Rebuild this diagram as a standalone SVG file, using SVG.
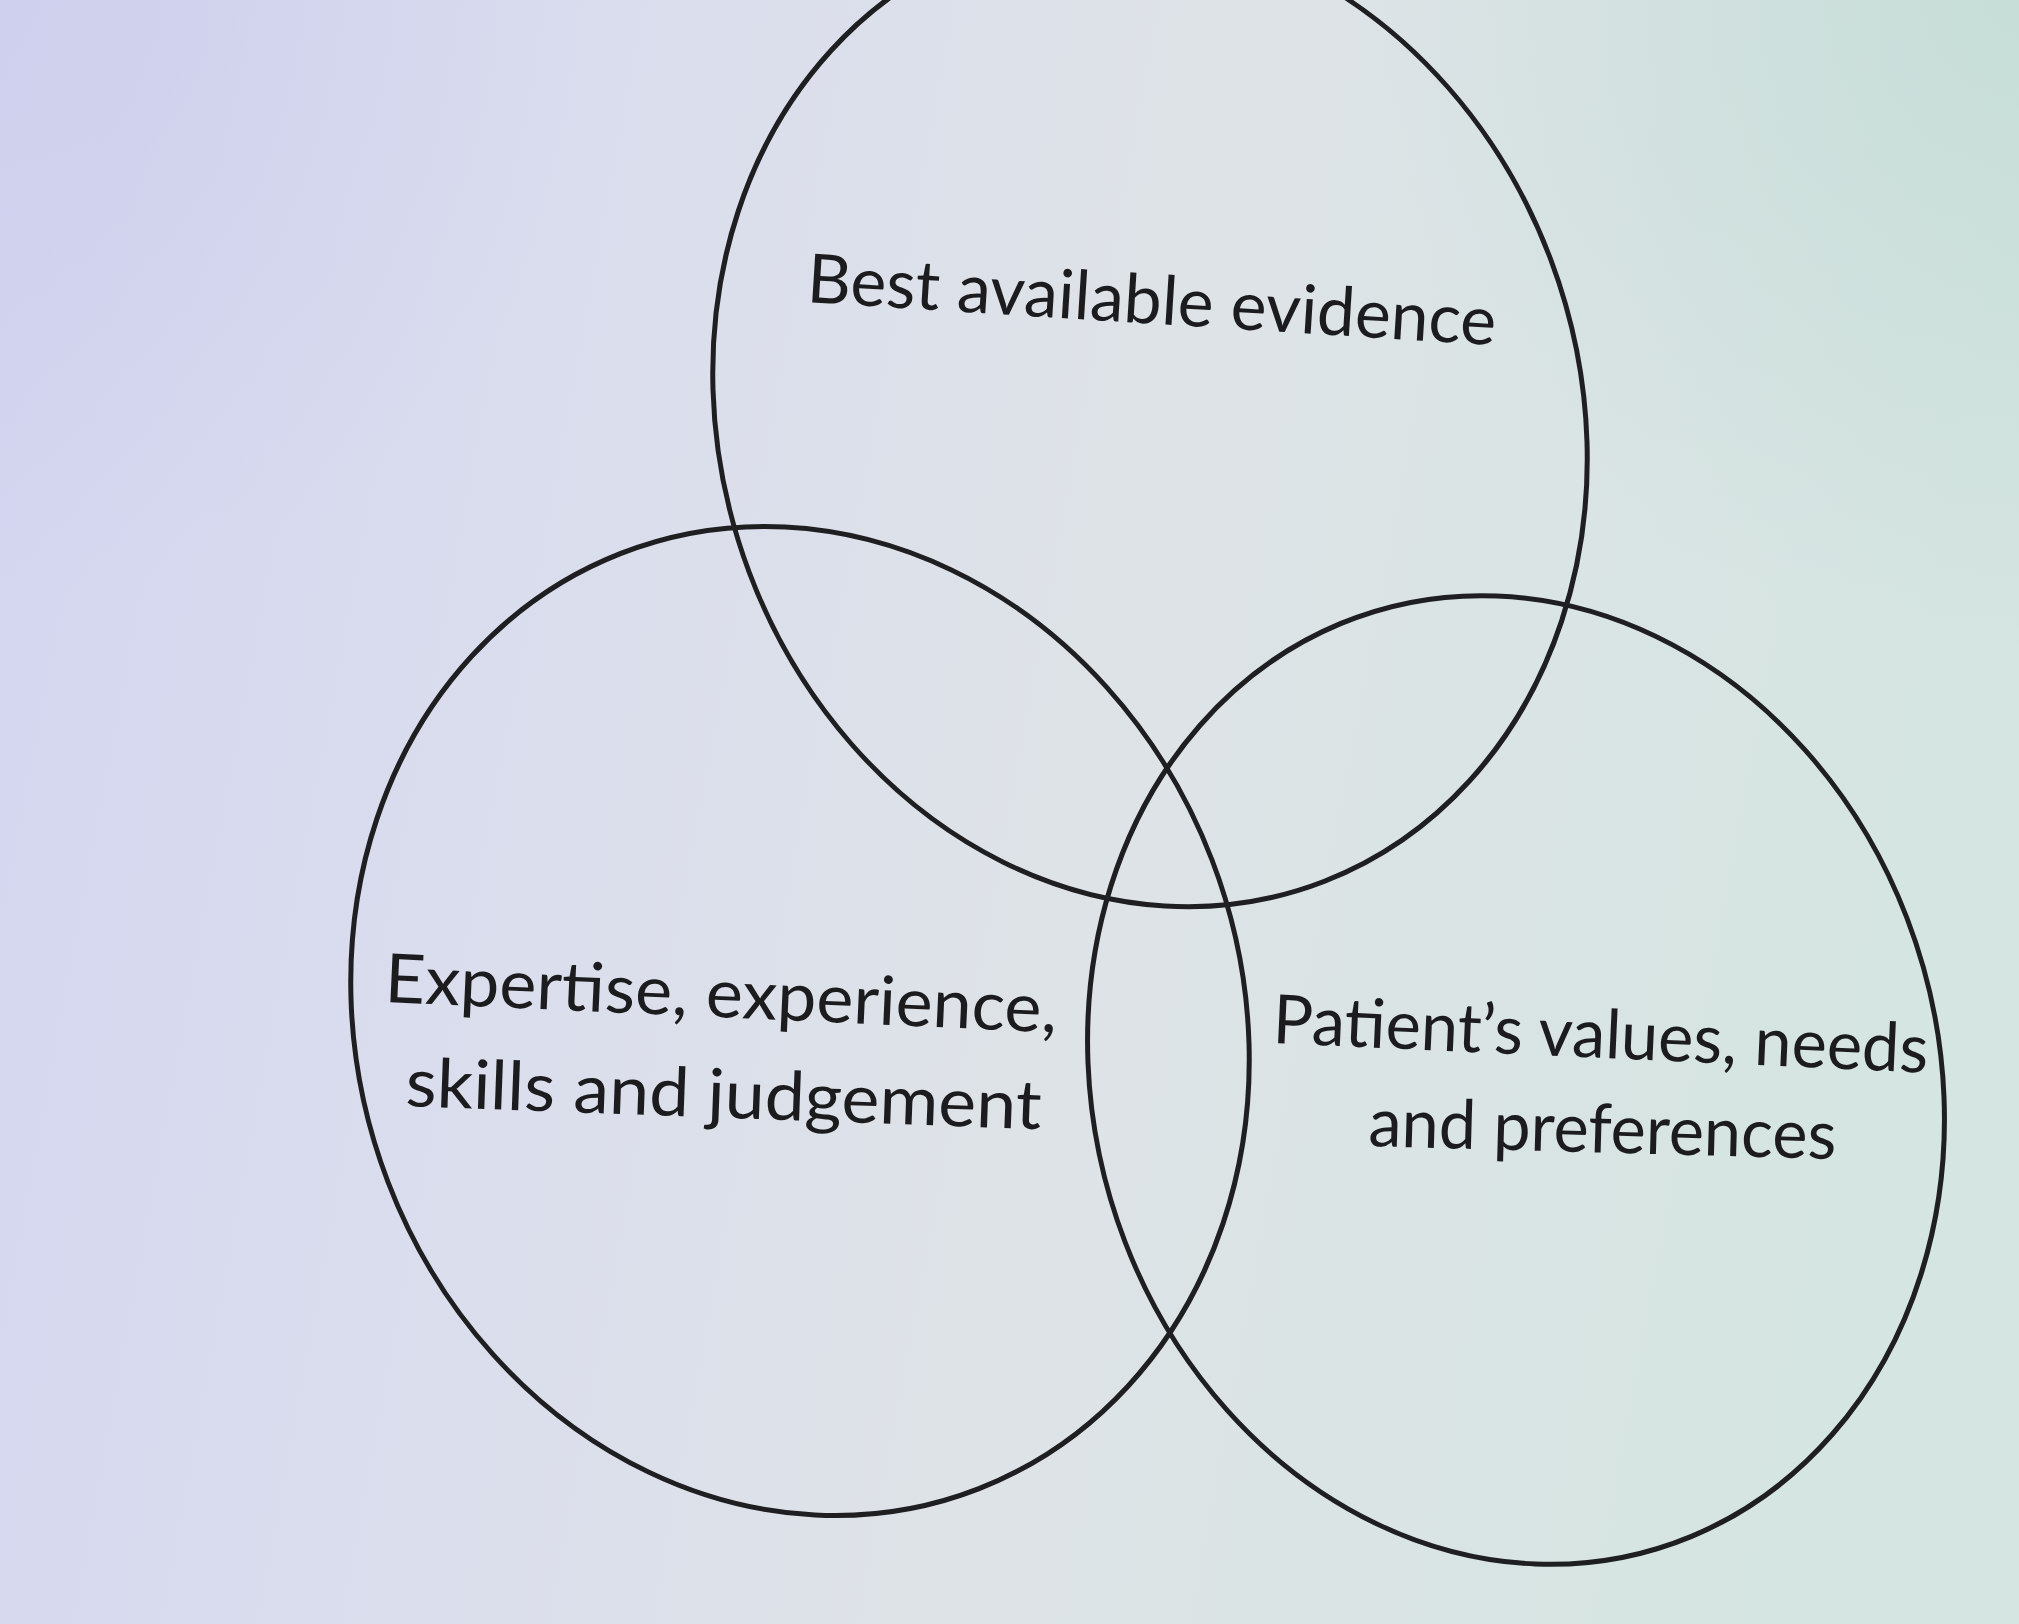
<svg xmlns="http://www.w3.org/2000/svg" width="2019" height="1624" viewBox="0 0 2019 1624">
<defs>
<linearGradient id="bg" x1="0" y1="0" x2="1" y2="0.15">
<stop offset="0" stop-color="#d3d5f0"/>
<stop offset="0.3" stop-color="#dadded"/>
<stop offset="0.6" stop-color="#dee3e7"/>
<stop offset="1" stop-color="#d5e5e1"/>
</linearGradient>
<radialGradient id="tr" cx="2019" cy="0" r="650" gradientUnits="userSpaceOnUse">
<stop offset="0" stop-color="#bcd8d1" stop-opacity="0.6"/>
<stop offset="1" stop-color="#bcd8d1" stop-opacity="0"/>
</radialGradient>
<radialGradient id="tl" cx="0" cy="0" r="600" gradientUnits="userSpaceOnUse">
<stop offset="0" stop-color="#c8cae9" stop-opacity="0.5"/>
<stop offset="1" stop-color="#c8cae9" stop-opacity="0"/>
</radialGradient>
<style>
.ring{fill:none;stroke:#1f1f22;stroke-width:5}
.lbl{font-family:Lato,"Open Sans","Liberation Sans",sans-serif;font-size:68px;fill:#1c1c1e}
</style>
</defs>
<rect width="2019" height="1624" fill="url(#bg)"/>
<rect width="2019" height="1624" fill="url(#tr)"/>
<rect width="2019" height="1624" fill="url(#tl)"/>
<g id="connectors"/>
<g id="node-evidence">
<ellipse class="ring" cx="0" cy="0" rx="437" ry="490" transform="translate(1150,416) matrix(1,0.06,0.03,1,0,0)"/>
<text class="lbl" transform="translate(806,302) rotate(3.6)" textLength="690" lengthAdjust="spacingAndGlyphs">Best available evidence</text>
</g>
<g id="node-expertise">
<ellipse class="ring" cx="0" cy="0" rx="449" ry="494" transform="translate(800,1021) matrix(1,0.05,0.03,1,0,0)"/>
<text class="lbl" transform="translate(384,1002) rotate(2.6)" textLength="673" lengthAdjust="spacingAndGlyphs">Expertise, experience,</text>
<text class="lbl" transform="translate(405,1106) rotate(2.1)" textLength="636" lengthAdjust="spacingAndGlyphs">skills and judgement</text>
</g>
<g id="node-patient">
<ellipse class="ring" cx="0" cy="0" rx="428" ry="484" transform="translate(1516,1080) matrix(1,0.04,0.04,1,0,0)"/>
<text class="lbl" transform="translate(1272,1043) rotate(2.6)" textLength="656" lengthAdjust="spacingAndGlyphs">Patient’s values, needs</text>
<text class="lbl" transform="translate(1368,1146) rotate(1.6)" textLength="468" lengthAdjust="spacingAndGlyphs">and preferences</text>
</g>
</svg>
